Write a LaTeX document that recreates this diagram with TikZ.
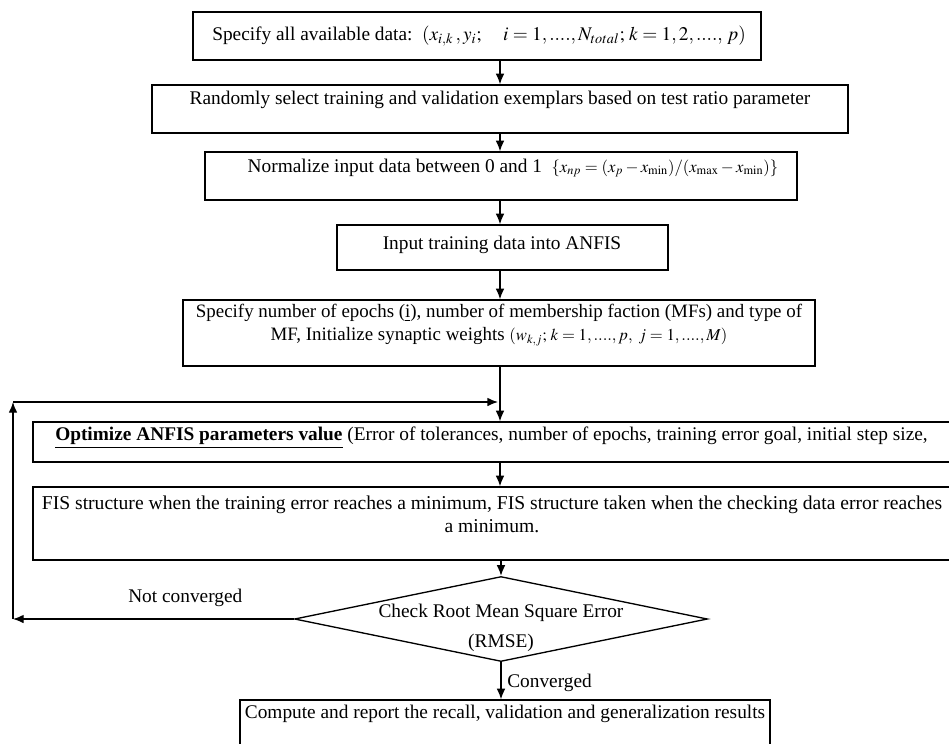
\documentclass[tikz,border=0pt]{standalone}
\usepackage{mathptmx}
\usepackage{fontspec}
\setmainfont{Liberation Serif}
\usetikzlibrary{arrows.meta,shapes.geometric,fit}
\begin{document}
\begin{tikzpicture}[x=0.75pt,y=-0.75pt,
  box/.style={draw, line width=1pt, inner sep=0pt},
  txt/.style={font=\fontsize{14.5}{17}\selectfont, align=center, inner sep=0pt},
  arr/.style={line width=1pt, -{Latex[length=8pt,width=6.5pt]}}]
\useasboundingbox (0,0) rectangle (949,743);
\clip (0,0) rectangle (949,743);
\coordinate (mx) at (500,0);
% boxes
\node[box, fit={(193,12) (761,60)}] (b1) {};
\node[txt] (t1) at (479,36) {Specify all available data:\ \ $(x_{i,k}\,,y_i;\quad i=1,....,N_{total};\,k=1,2,....,\,p)$};
\node[box, fit={(152,85) (848,133)}] (b2) {};
\node[txt] (t2) at (500,100) {Randomly select training and validation exemplars based on test ratio parameter};
\node[box, fit={(205,152) (797,200)}] (b3) {};
\node[txt] (t3) at (513,168) {Normalize input data between 0 and 1\ \ {\fontsize{12.5}{14}\selectfont$\{x_{np}=(x_p-x_{\min})/(x_{\max}-x_{\min})\}$}};
\node[box, fit={(337,225) (668,270)}] (b4) {};
\node[txt] (t4) at (502,245) {Input training data into ANFIS};
\node[box, fit={(183,300) (815,366)}] (b5) {};
\node[txt, font=\fontsize{14.2}{17}\selectfont] (t5) at (499,325) {Specify number of epochs (\underline{i}), number of membership faction (MFs) and type of\\MF, Initialize synaptic weights\ {\fontsize{12.5}{14}\selectfont$(w_{k,j};\,k=1,....,p,\ j=1,....,M)$}};
\node[box, fit={(33,422) (980,462)}] (b6) {};
\node[txt, anchor=west] (t6) at (55,438) {\underline{\textbf{Optimize ANFIS parameters value}} (Error of tolerances, number of epochs, training error goal, initial step size,};
\node[box, fit={(33,487) (980,560)}] (b7) {};
\node[txt, font=\fontsize{14.7}{17}\selectfont] (t7) at (492,514) {FIS structure when the training error reaches a minimum, FIS structure taken when the checking data error reaches\\a minimum.};
\node[diamond, draw, line width=1pt, inner sep=0pt, minimum width=413*0.75pt, minimum height=85*0.75pt] (dia) at (501,619) {};
\node[txt] (td) at (501,628) {Check Root Mean Square Error\\[5pt](RMSE)};
\node[box, fit={(240,700) (770,790)}] (b8) {};
\node[txt] (t8) at (505,714) {Compute and report the recall, validation and generalization results};
% labels
\node[txt, anchor=west] (lnc) at (128,598) {Not converged};
\node[txt, anchor=west] (lc) at (507,683) {Converged};
% connectors
\draw[arr] (b1.south -| mx) -- (b2.north -| mx);
\draw[arr] (b2.south -| mx) -- (b3.north -| mx);
\draw[arr] (b3.south -| mx) -- (b4.north -| mx);
\draw[arr] (b4.south -| mx) -- (b5.north -| mx);
\draw[arr] (b5.south -| mx) -- (b6.north -| mx);
\draw[arr] (b6.south -| mx) -- (b7.north -| mx);
\draw[arr] (b7.south -| dia.north) -- (dia.north);
\draw[arr] (dia.south) -- (b8.north -| dia.south);
% loop back
\coordinate (c1) at (13,619);
\coordinate (c2) at (13,402);
\coordinate (c3) at (498,402);
\draw[arr] (dia.west) -- (c1);
\draw[arr] (c1) -- (c2);
\draw[arr] (c2) -- (c3);
\end{tikzpicture}
\end{document}
